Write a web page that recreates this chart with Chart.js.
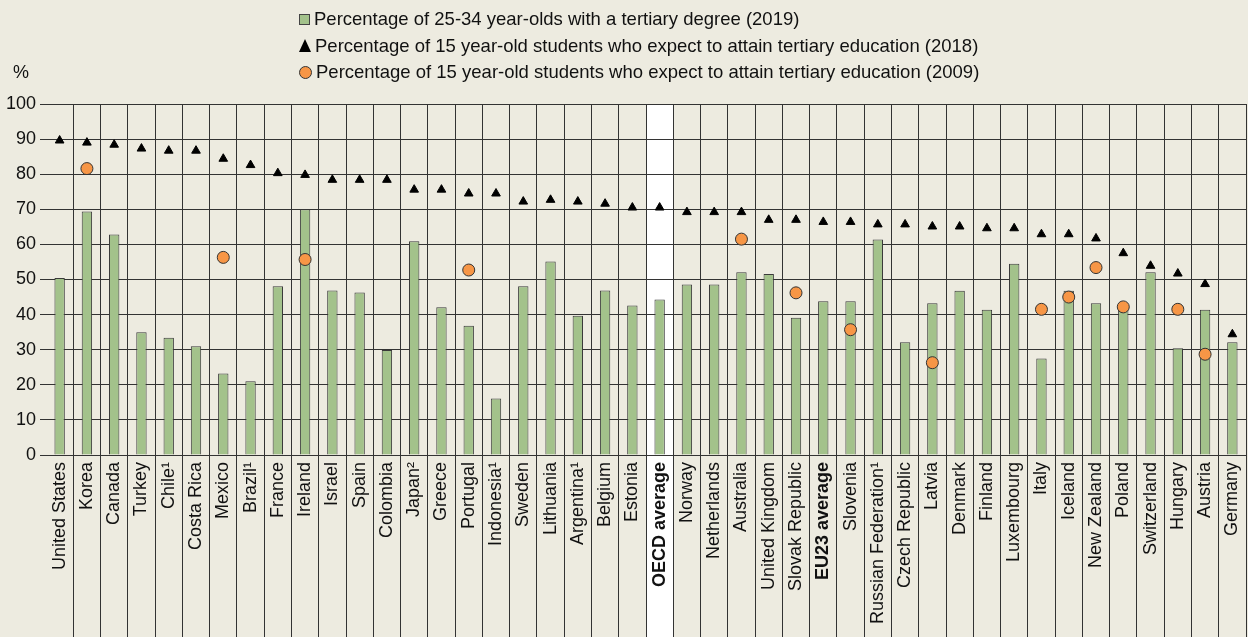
<!DOCTYPE html>
<html>
<head>
<meta charset="utf-8">
<script src="https://cdn.jsdelivr.net/npm/chart.js@4/dist/chart.umd.min.js"></script>
<style>
    body { margin: 0; background: #edebe0; font-family: "Liberation Sans", Arial, sans-serif; overflow: hidden; }
    #wrap { position: relative; width: 1248px; height: 637px; }
    #legend { position: absolute; left: 299px; top: 6px; font-size: 18.5px; line-height: 26.5px; color: #111; }
    .legend-row { display: flex; align-items: center; white-space: nowrap; }
    .mark { display: inline-block; margin-right: 4px; box-sizing: border-box; }
    .mark-bar { width: 11px; height: 11px; background: #a3c28b; border: 1px solid #444; }
    .mark-tri { width: 0; height: 0; border-left: 6px solid transparent; border-right: 6px solid transparent; border-bottom: 13px solid #000; }
    .mark-dot { width: 13px; height: 13px; border-radius: 50%; background: #f79646; border: 1px solid #333; }
    #unit { position: absolute; left: 13px; top: 62px; font-size: 18px; color: #111; }
    canvas { display: block; }
</style>
</head>
<body>
<div id="wrap">
    <div id="legend"></div>
    <div id="unit">%</div>
    <canvas id="chart" width="1248" height="637"></canvas>
</div>
<script>
// 國家 / 平均
let countries = [
    "United States", "Korea", "Canada", "Turkey", "Chile¹", "Costa Rica", "Mexico", "Brazil¹",
    "France", "Ireland", "Israel", "Spain", "Colombia", "Japan²", "Greece", "Portugal",
    "Indonesia¹", "Sweden", "Lithuania", "Argentina¹", "Belgium", "Estonia", "OECD average",
    "Norway", "Netherlands", "Australia", "United Kingdom", "Slovak Republic", "EU23 average",
    "Slovenia", "Russian Federation¹", "Czech Republic", "Latvia", "Denmark", "Finland",
    "Luxembourg", "Italy", "Iceland", "New Zealand", "Poland", "Switzerland", "Hungary",
    "Austria", "Germany"
];

// 25-34 歲 高等教育學歷 (2019)
let tertiary2019 = [
    50.4, 69.4, 62.8, 35.0, 33.4, 31.0, 23.2, 21.0, 48.1, 70.0, 46.9, 46.3, 29.9, 60.9,
    42.1, 36.8, 16.1, 48.1, 55.1, 39.7, 46.9, 42.6, 44.3, 48.6, 48.6, 52.1, 51.6, 39.1,
    43.8, 43.8, 61.4, 32.1, 43.2, 46.8, 41.4, 54.5, 27.5, 46.8, 43.2, 41.5, 52.1, 30.4,
    41.4, 32.1
];

// 15 歲學生 預期高等教育 (2018)
let expect2018 = [
    89.6, 89.0, 88.4, 87.3, 86.7, 86.7, 84.4, 82.6, 80.3, 79.8, 78.4, 78.4, 78.4, 75.6,
    75.6, 74.5, 74.5, 72.2, 72.7, 72.2, 71.6, 70.5, 70.5, 69.2, 69.2, 69.2, 67.0, 67.0,
    66.4, 66.4, 65.7, 65.7, 65.1, 65.1, 64.6, 64.6, 62.9, 62.9, 61.7, 57.5, 53.9, 51.7,
    48.7, 34.4
];

// 15 歲學生 預期高等教育 (2009)
let expect2009 = [
    null, 81.6, null, null, null, null, 56.3, null, null, 55.7, null, null, null, null,
    null, 52.7, null, null, null, null, null, null, null, null, null, 61.5, null, 46.2,
    null, 35.7, null, null, 26.3, null, null, null, 41.5, 45.0, 53.4, 42.2, null, 41.5,
    28.7, null
];

let yTicks = [0, 10, 20, 30, 40, 50, 60, 70, 80, 90, 100];

let seriesNames = [
    "Percentage of 25-34 year-olds with a tertiary degree (2019)",
    "Percentage of 15 year-old students who expect to attain tertiary education (2018)",
    "Percentage of 15 year-old students who expect to attain tertiary education (2009)"
];

let boldLabels = ["OECD average", "EU23 average"];
let highlightLabel = "OECD average";

let fontFamily = "'Liberation Sans', Arial, sans-serif";
let lineColor = "#333";

// 圖例 (HTML)
let buildLegend = () => {
    let markClass = ["mark-bar", "mark-tri", "mark-dot"];
    document.getElementById("legend").innerHTML = seriesNames.map((name, i) => `
        <div class="legend-row"><span class="mark ${markClass[i]}"></span>${name}</div>
    `).join("");
}

// 白色背景 (OECD average 欄)
let highlightPlugin = {
    id: "highlight",
    beforeDraw: (chart) => {
        let x = chart.scales.x;
        let idx = countries.indexOf(highlightLabel);
        let half = (x.getPixelForValue(1) - x.getPixelForValue(0)) / 2;
        let center = x.getPixelForValue(idx);
        let ctx = chart.ctx;
        ctx.save();
        ctx.fillStyle = "#ffffff";
        ctx.fillRect(center - half, chart.chartArea.top, half * 2, chart.height - chart.chartArea.top);
        ctx.restore();
    }
};

let makeChart = () => {
    new Chart(document.getElementById("chart"), {
        type: "bar",
        data: {
            labels: countries,
            datasets: [
                {
                    type: "line",
                    label: seriesNames[2],
                    data: expect2009,
                    showLine: false,
                    pointStyle: "circle",
                    pointRadius: 6,
                    pointBackgroundColor: "#f79646",
                    pointBorderColor: "#333",
                    pointBorderWidth: 1,
                    order: 1
                },
                {
                    type: "line",
                    label: seriesNames[1],
                    data: expect2018,
                    showLine: false,
                    pointStyle: "triangle",
                    pointRadius: 5,
                    pointBackgroundColor: "#000",
                    pointBorderColor: "#000",
                    pointBorderWidth: 1,
                    order: 2
                },
                {
                    label: seriesNames[0],
                    data: tertiary2019,
                    backgroundColor: "#a3c28b",
                    borderColor: "#3a3a3a",
                    borderWidth: 1,
                    barPercentage: 0.38,
                    categoryPercentage: 1,
                    order: 3
                }
            ]
        },
        options: {
            responsive: false,
            animation: false,
            // 點的 overflow 不要再加 padding
            layout: { autoPadding: false, padding: { top: 104, left: 0, right: 2, bottom: 0 } },
            plugins: {
                legend: { display: false },
                tooltip: { enabled: false }
            },
            scales: {
                x: {
                    offset: true,
                    border: { display: false },
                    grid: {
                        offset: true,
                        color: (ctx) => ctx.index === 0 ? "rgba(0,0,0,0)" : lineColor,
                        lineWidth: 1,
                        drawTicks: true,
                        tickLength: 182,
                        tickColor: (ctx) => ctx.index === 0 ? "rgba(0,0,0,0)" : lineColor
                    },
                    ticks: {
                        autoSkip: false,
                        minRotation: 90,
                        maxRotation: 90,
                        padding: -175,
                        color: "#111",
                        font: (ctx) => ({
                            family: fontFamily,
                            size: 18,
                            weight: boldLabels.includes(countries[ctx.index]) ? "bold" : "normal"
                        })
                    },
                    afterFit: (scale) => {
                        scale.height = 182;
                    }
                },
                y: {
                    min: 0,
                    max: 100,
                    border: { display: false },
                    afterBuildTicks: (scale) => { scale.ticks = yTicks.map((v) => ({ value: v })); },
                    grid: {
                        color: lineColor,
                        lineWidth: 1,
                        drawTicks: true,
                        tickLength: 6
                    },
                    ticks: {
                        padding: 4,
                        color: "#111",
                        font: { family: fontFamily, size: 18 }
                    },
                    afterFit: (scale) => { scale.width = 46; }
                }
            }
        },
        plugins: [highlightPlugin]
    });
}

buildLegend();
makeChart();
</script>
</body>
</html>
